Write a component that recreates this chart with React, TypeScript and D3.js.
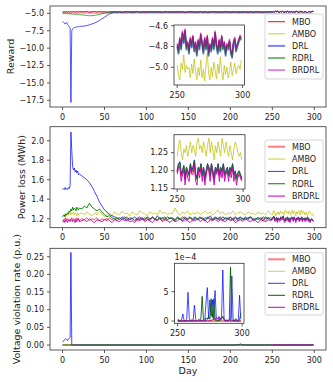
import React from 'react';
import * as d3 from 'd3';

// x categories: days 0-20 daily, then every 3rd day to 248 (main), and days 250-299 daily (inset)
const headDays = d3.range(0, 21);
const bodyDays = d3.range(23, 249, 3);
const mainDays = headDays.concat(bodyDays);
const insetDays = d3.range(250, 300);

const names = ['MBO', 'AMBO', 'DRL', 'RDRL', 'BRDRL'];
const xTicks = [0, 50, 100, 150, 200, 250, 300];
const insetXTicks = [250, 300];

// ---------- Reward ----------
const rewardMboMain = [
  -4.80, -4.82, -4.78, -4.84, -4.80, -4.76, -4.82, -4.79, -4.85, -4.80,
  -4.78, -4.83, -4.80, -4.76, -4.82, -4.84, -4.79, -4.81, -4.77, -4.83,
  -4.80,
  -4.78, -4.82, -4.76, -4.84, -4.80, -4.78, -4.83, -4.77, -4.81, -4.79,
  -4.84, -4.78, -4.80, -4.76, -4.82, -4.79, -4.85, -4.78, -4.81, -4.77,
  -4.83, -4.80, -4.76, -4.82, -4.78, -4.84, -4.79, -4.81, -4.75, -4.82,
  -4.80, -4.78, -4.84, -4.77, -4.81, -4.79, -4.83, -4.76, -4.80, -4.82,
  -4.78, -4.85, -4.79, -4.81, -4.77, -4.83, -4.80, -4.76, -4.82, -4.79,
  -4.84, -4.78, -4.80, -4.77, -4.82, -4.79, -4.83, -4.76, -4.81, -4.80,
  -4.78, -4.84, -4.79, -4.82, -4.77, -4.80, -4.83, -4.78, -4.81, -4.76,
  -4.82, -4.79, -4.84, -4.78, -4.80, -4.77,
];
const rewardAmboMain = [
  -4.98, -5.02, -4.96, -5.04, -5.00, -4.97, -5.03, -4.99, -5.05, -5.00,
  -4.96, -5.02, -5.00, -4.97, -5.04, -5.01, -4.98, -5.03, -4.99, -5.02,
  -5.00,
  -4.97, -5.03, -5.00, -5.06, -4.98, -5.02, -4.96, -5.04, -5.01, -4.99,
  -5.05, -4.98, -5.02, -4.97, -5.03, -5.00, -5.06, -4.99, -5.02, -4.96,
  -5.04, -5.00, -4.97, -5.03, -4.99, -5.05, -5.01, -4.98, -5.04, -4.96,
  -5.02, -5.00, -5.06, -4.98, -5.03, -4.99, -5.04, -4.97, -5.02, -5.00,
  -4.98, -5.05, -5.01, -4.97, -5.03, -5.00, -5.06, -4.99, -5.02, -4.98,
  -5.04, -5.00, -4.97, -5.03, -5.01, -5.05, -4.98, -5.02, -4.99, -5.04,
  -5.00, -4.97, -5.03, -5.01, -4.98, -5.02,
];
const rewardDrlMain = [
  -6.15, -6.25, -6.35, -6.55, -6.40, -6.30, -6.60, -6.70, -6.90, -7.10,
  -17.80, -7.50, -7.20, -7.10, -7.05, -7.00, -6.98, -6.95, -6.92, -6.90,
  -6.88,
  -6.85, -6.82, -6.75, -6.65, -6.52, -6.40, -6.22, -6.02, -5.78, -5.55,
  -5.30, -5.08, -4.92, -4.86,
  -4.84, -4.80, -4.86, -4.82, -4.79, -4.85, -4.81, -4.83, -4.78, -4.86,
  -4.82, -4.80, -4.84, -4.79, -4.85, -4.81, -4.83, -4.80, -4.86, -4.82,
  -4.78, -4.84, -4.81, -4.85, -4.80, -4.83, -4.79, -4.86, -4.82, -4.80,
  -4.84, -4.81, -4.85, -4.79, -4.83, -4.80, -4.86, -4.82, -4.78, -4.84,
  -4.81, -4.85, -4.80, -4.83, -4.79, -4.86, -4.82, -4.80, -4.84, -4.81,
  -4.85, -4.79, -4.83, -4.80, -4.86, -4.82, -4.78, -4.84, -4.81, -4.85,
  -4.80, -4.83,
];
const rewardRdrlMain = [
  -4.98, -5.00, -4.96, -5.02, -5.04, -5.00, -5.06, -5.03, -5.08, -5.05,
  -5.10, -5.07, -5.12, -5.09, -5.14, -5.11, -5.16, -5.13, -5.18, -5.15,
  -5.20,
  -5.22, -5.25, -5.30, -5.35, -5.32, -5.28, -5.22, -5.15, -5.05, -4.95,
  -4.88, -4.85, -4.84, -4.83,
  -4.83, -4.79, -4.85, -4.81, -4.78, -4.84, -4.80, -4.82, -4.77, -4.85,
  -4.81, -4.79, -4.83, -4.78, -4.84, -4.80, -4.82, -4.79, -4.85, -4.81,
  -4.77, -4.83, -4.80, -4.84, -4.79, -4.82, -4.78, -4.85, -4.81, -4.79,
  -4.83, -4.80, -4.84, -4.78, -4.82, -4.79, -4.85, -4.81, -4.77, -4.83,
  -4.80, -4.84, -4.79, -4.82, -4.78, -4.85, -4.81, -4.79, -4.83, -4.80,
  -4.84, -4.78, -4.82, -4.79, -4.85, -4.81, -4.77, -4.83, -4.80, -4.84,
  -4.79, -4.82,
];
const rewardBrdrlMain = [
  -4.76, -4.79, -4.74, -4.80, -4.77, -4.73, -4.79, -4.76, -4.81, -4.77,
  -4.75, -4.80, -4.77, -4.73, -4.79, -4.81, -4.76, -4.78, -4.74, -4.80,
  -4.77,
  -4.75, -4.79, -4.73, -4.81, -4.77, -4.75, -4.80, -4.74, -4.78, -4.76,
  -4.81, -4.75, -4.77, -4.73, -4.79, -4.76, -4.82, -4.75, -4.78, -4.74,
  -4.80, -4.77, -4.73, -4.79, -4.75, -4.81, -4.76, -4.78, -4.72, -4.79,
  -4.77, -4.75, -4.81, -4.74, -4.78, -4.76, -4.80, -4.73, -4.77, -4.79,
  -4.75, -4.82, -4.76, -4.78, -4.74, -4.80, -4.77, -4.73, -4.79, -4.76,
  -4.81, -4.75, -4.77, -4.74, -4.79, -4.76, -4.80, -4.73, -4.78, -4.77,
  -4.75, -4.81, -4.76, -4.79, -4.74, -4.77, -4.80, -4.75, -4.78, -4.73,
  -4.79, -4.76, -4.81, -4.75, -4.77, -4.74,
];

const rewardMboInset = [
  -4.78, -4.84, -4.72, -4.80, -4.66, -4.74, -4.64, -4.80, -4.76, -4.84,
  -4.72, -4.78, -4.70, -4.82, -4.76, -4.86, -4.74, -4.80, -4.68, -4.76,
  -4.84, -4.72, -4.80, -4.70, -4.86, -4.78, -4.82, -4.72, -4.80, -4.66,
  -4.78, -4.84, -4.74, -4.82, -4.70, -4.80, -4.76, -4.86, -4.78, -4.80,
  -4.74, -4.84, -4.88, -4.76, -4.72, -4.82, -4.78, -4.74, -4.70, -4.72,
];
const rewardAmboInset = [
  -4.98, -5.08, -5.12, -4.96, -5.02, -4.88, -5.05, -4.98, -5.02, -5.00,
  -5.10, -4.97, -5.06, -4.92, -5.04, -5.12, -5.00, -5.08, -4.93, -5.10,
  -5.02, -5.13, -4.98, -4.86, -5.06, -5.12, -5.00, -5.09, -4.95, -5.03,
  -5.11, -4.97, -5.06, -4.90, -5.04, -5.12, -4.98, -5.07, -5.00, -5.10,
  -5.04, -4.95, -5.08, -5.02, -4.96, -5.06, -5.00, -4.98, -5.02, -4.93,
];
const rewardDrlInset = [
  -4.80, -4.87, -4.74, -4.83, -4.68, -4.77, -4.66, -4.83, -4.78, -4.87,
  -4.74, -4.81, -4.72, -4.85, -4.78, -4.89, -4.76, -4.83, -4.70, -4.78,
  -4.87, -4.74, -4.83, -4.72, -4.89, -4.80, -4.85, -4.74, -4.83, -4.68,
  -4.80, -4.87, -4.76, -4.85, -4.72, -4.83, -4.78, -4.89, -4.80, -4.83,
  -4.76, -4.87, -4.91, -4.78, -4.74, -4.85, -4.80, -4.76, -4.72, -4.74,
];
const rewardRdrlInset = [
  -4.79, -4.86, -4.73, -4.82, -4.67, -4.76, -4.65, -4.82, -4.77, -4.86,
  -4.73, -4.80, -4.71, -4.84, -4.77, -4.88, -4.75, -4.82, -4.69, -4.77,
  -4.86, -4.73, -4.82, -4.71, -4.88, -4.79, -4.84, -4.73, -4.82, -4.67,
  -4.79, -4.86, -4.75, -4.84, -4.71, -4.82, -4.77, -4.88, -4.79, -4.82,
  -4.75, -4.86, -4.90, -4.77, -4.73, -4.84, -4.79, -4.75, -4.71, -4.73,
];
const rewardBrdrlInset = [
  -4.77, -4.83, -4.71, -4.79, -4.65, -4.73, -4.63, -4.79, -4.75, -4.83,
  -4.71, -4.77, -4.69, -4.81, -4.75, -4.85, -4.73, -4.79, -4.67, -4.75,
  -4.83, -4.71, -4.79, -4.69, -4.85, -4.77, -4.81, -4.71, -4.79, -4.65,
  -4.77, -4.83, -4.73, -4.81, -4.69, -4.79, -4.75, -4.85, -4.77, -4.79,
  -4.73, -4.83, -4.87, -4.75, -4.71, -4.81, -4.77, -4.73, -4.69, -4.71,
];

// ---------- Power loss ----------
const lossMboMain = [
  1.19, 1.18, 1.20, 1.19, 1.21, 1.18, 1.20, 1.19, 1.18, 1.20,
  1.19, 1.21, 1.18, 1.20, 1.19, 1.20, 1.18, 1.21, 1.19, 1.20,
  1.18,
  1.20, 1.19, 1.21, 1.18, 1.20, 1.19, 1.21, 1.18, 1.20, 1.19,
  1.18, 1.21, 1.19, 1.20, 1.18, 1.21, 1.19, 1.20, 1.22, 1.19,
  1.20, 1.18, 1.21, 1.19, 1.20, 1.18, 1.21, 1.19, 1.22, 1.20,
  1.19, 1.21, 1.18, 1.20, 1.19, 1.21, 1.20, 1.18, 1.21, 1.19,
  1.20, 1.22, 1.19, 1.21, 1.18, 1.20, 1.19, 1.21, 1.20, 1.18,
  1.21, 1.19, 1.20, 1.22, 1.19, 1.21, 1.18, 1.20, 1.19, 1.21,
  1.20, 1.18, 1.21, 1.19, 1.20, 1.22, 1.19, 1.21, 1.18, 1.20,
  1.19, 1.21, 1.20, 1.18, 1.21, 1.19,
];
const lossAmboMain = [
  1.23, 1.24, 1.22, 1.25, 1.24, 1.23, 1.26, 1.24, 1.25, 1.27,
  1.24, 1.26, 1.25, 1.27, 1.24, 1.26, 1.25, 1.23, 1.26, 1.24,
  1.25,
  1.26, 1.24, 1.27, 1.25, 1.23, 1.26, 1.24, 1.27, 1.25, 1.22,
  1.24, 1.26, 1.23, 1.27, 1.25, 1.24, 1.28, 1.25, 1.26, 1.23,
  1.27, 1.25, 1.24, 1.28, 1.26, 1.25, 1.23, 1.27, 1.25, 1.26,
  1.24, 1.29, 1.25, 1.27, 1.24, 1.26, 1.25, 1.31, 1.26, 1.24,
  1.27, 1.25, 1.28, 1.24, 1.26, 1.25, 1.27, 1.24, 1.26, 1.28,
  1.25, 1.27, 1.24, 1.26, 1.29, 1.25, 1.27, 1.24, 1.26, 1.25,
  1.28, 1.24, 1.26, 1.27, 1.25, 1.24, 1.27, 1.25, 1.26, 1.24,
  1.27, 1.25, 1.26, 1.24, 1.28, 1.25,
];
const lossDrlMain = [
  1.50, 1.51, 1.50, 1.52, 1.50, 1.51, 1.50, 1.52, 1.51, 1.54,
  2.09, 1.90, 1.74, 1.70, 1.72, 1.68, 1.70, 1.67, 1.69, 1.65,
  1.66,
  1.64, 1.62, 1.60, 1.57, 1.53, 1.48, 1.43, 1.37, 1.33, 1.29,
  1.27, 1.24, 1.23, 1.22,
  1.21, 1.19, 1.22, 1.20, 1.18, 1.21, 1.20, 1.22, 1.19, 1.20,
  1.21, 1.19, 1.22, 1.20, 1.21, 1.19, 1.23, 1.20, 1.21, 1.19,
  1.22, 1.20, 1.21, 1.19, 1.22, 1.20, 1.18, 1.21, 1.20, 1.22,
  1.19, 1.21, 1.20, 1.22, 1.19, 1.21, 1.20, 1.23, 1.19, 1.21,
  1.20, 1.22, 1.19, 1.21, 1.20, 1.22, 1.19, 1.21, 1.20, 1.22,
  1.19, 1.21, 1.20, 1.22, 1.19, 1.20, 1.21, 1.19, 1.22, 1.20,
  1.21, 1.19,
];
const lossRdrlMain = [
  1.22, 1.23, 1.24, 1.22, 1.25, 1.24, 1.26, 1.25, 1.28, 1.27,
  1.30, 1.28, 1.32, 1.29, 1.31, 1.30, 1.28, 1.32, 1.30, 1.29,
  1.31,
  1.30, 1.33, 1.31, 1.36, 1.32, 1.30, 1.28, 1.30, 1.27, 1.24,
  1.22, 1.23, 1.21, 1.20,
  1.20, 1.21, 1.19, 1.22, 1.20, 1.19, 1.21, 1.18, 1.20, 1.22,
  1.19, 1.21, 1.20, 1.18, 1.22, 1.20, 1.19, 1.21, 1.20, 1.22,
  1.19, 1.21, 1.20, 1.18, 1.21, 1.19, 1.22, 1.20, 1.19, 1.21,
  1.20, 1.22, 1.19, 1.20, 1.21, 1.18, 1.22, 1.20, 1.19, 1.21,
  1.20, 1.19, 1.22, 1.20, 1.21, 1.19, 1.20, 1.22, 1.18, 1.21,
  1.20, 1.19, 1.21, 1.22, 1.20, 1.19, 1.21, 1.20, 1.18, 1.22,
  1.20, 1.21,
];
const lossBrdrlMain = [
  1.17, 1.18, 1.16, 1.19, 1.17, 1.18, 1.16, 1.19, 1.18, 1.17,
  1.19, 1.18, 1.17, 1.19, 1.18, 1.16, 1.19, 1.17, 1.18, 1.20,
  1.17,
  1.18, 1.19, 1.17, 1.20, 1.18, 1.16, 1.19, 1.18, 1.17, 1.19,
  1.20, 1.18, 1.16, 1.19, 1.18, 1.17, 1.20, 1.18, 1.19, 1.17,
  1.18, 1.16, 1.19, 1.18, 1.20, 1.17, 1.19, 1.18, 1.16, 1.19,
  1.18, 1.20, 1.17, 1.19, 1.18, 1.16, 1.19, 1.17, 1.18, 1.20,
  1.17, 1.19, 1.18, 1.16, 1.19, 1.18, 1.20, 1.17, 1.19, 1.18,
  1.16, 1.19, 1.18, 1.20, 1.17, 1.19, 1.18, 1.17, 1.20, 1.18,
  1.19, 1.16, 1.18, 1.19, 1.17, 1.20, 1.18, 1.17, 1.19, 1.18,
  1.16, 1.19, 1.18, 1.17, 1.19, 1.18,
];

const lossMboInset = [
  1.195, 1.215, 1.22, 1.185, 1.195, 1.21, 1.175, 1.205, 1.195, 1.185,
  1.215, 1.195, 1.205, 1.225, 1.185, 1.175, 1.205, 1.195, 1.215, 1.185,
  1.205, 1.175, 1.195, 1.215, 1.205, 1.185, 1.215, 1.195, 1.175, 1.205,
  1.195, 1.215, 1.185, 1.205, 1.195, 1.215, 1.185, 1.195, 1.205, 1.185,
  1.205, 1.195, 1.215, 1.185, 1.195, 1.175, 1.19, 1.195, 1.185, 1.175,
];
const lossAmboInset = [
  1.24, 1.27, 1.285, 1.25, 1.23, 1.26, 1.25, 1.27, 1.24, 1.26,
  1.28, 1.25, 1.27, 1.26, 1.24, 1.28, 1.29, 1.26, 1.27, 1.25,
  1.28, 1.26, 1.24, 1.27, 1.29, 1.25, 1.28, 1.26, 1.23, 1.27,
  1.25, 1.28, 1.26, 1.24, 1.29, 1.27, 1.25, 1.28, 1.26, 1.24,
  1.27, 1.25, 1.23, 1.26, 1.28, 1.27, 1.25, 1.24, 1.25, 1.23,
];
const lossDrlInset = [
  1.20, 1.22, 1.225, 1.19, 1.20, 1.215, 1.18, 1.21, 1.20, 1.19,
  1.22, 1.20, 1.21, 1.23, 1.19, 1.18, 1.21, 1.20, 1.22, 1.19,
  1.21, 1.18, 1.20, 1.22, 1.21, 1.19, 1.22, 1.20, 1.18, 1.21,
  1.20, 1.22, 1.19, 1.21, 1.20, 1.22, 1.19, 1.20, 1.21, 1.19,
  1.21, 1.20, 1.22, 1.19, 1.20, 1.18, 1.195, 1.20, 1.19, 1.18,
];
const lossRdrlInset = [
  1.197, 1.217, 1.222, 1.187, 1.197, 1.212, 1.177, 1.207, 1.197, 1.187,
  1.217, 1.197, 1.207, 1.227, 1.187, 1.177, 1.207, 1.197, 1.217, 1.187,
  1.207, 1.177, 1.197, 1.217, 1.207, 1.187, 1.217, 1.197, 1.177, 1.207,
  1.197, 1.217, 1.187, 1.207, 1.197, 1.217, 1.187, 1.197, 1.207, 1.187,
  1.207, 1.197, 1.217, 1.187, 1.197, 1.177, 1.192, 1.197, 1.187, 1.177,
];
const lossBrdrlInset = [
  1.19, 1.21, 1.21, 1.17, 1.19, 1.20, 1.16, 1.20, 1.18, 1.17,
  1.21, 1.19, 1.19, 1.22, 1.17, 1.16, 1.20, 1.18, 1.21, 1.17,
  1.20, 1.16, 1.19, 1.21, 1.20, 1.17, 1.21, 1.19, 1.16, 1.20,
  1.19, 1.21, 1.17, 1.20, 1.18, 1.21, 1.17, 1.19, 1.20, 1.17,
  1.20, 1.18, 1.21, 1.17, 1.19, 1.16, 1.18, 1.19, 1.18, 1.17,
];

// ---------- Voltage violation rate ----------
const violFlatMain = [
  0, 0, 0, 0, 0, 0, 0, 0, 0, 0, 0, 0, 0, 0, 0, 0, 0, 0, 0, 0, 0,
  0, 0, 0, 0, 0, 0, 0, 0, 0, 0, 0, 0, 0, 0, 0, 0, 0, 0, 0, 0,
  0, 0, 0, 0, 0, 0, 0, 0, 0, 0, 0, 0, 0, 0, 0, 0, 0, 0, 0, 0,
  0, 0, 0, 0, 0, 0, 0, 0, 0, 0, 0, 0, 0, 0, 0, 0, 0, 0, 0, 0,
  0, 0, 0, 0, 0, 0, 0, 0, 0, 0, 0, 0, 0, 0, 0, 0,
];
const violDrlMain = [
  0.008, 0.011, 0.014, 0.016, 0.018, 0.015, 0.013, 0.017, 0.019, 0.021,
  0.262, 0, 0, 0, 0, 0, 0, 0, 0, 0, 0,
  0, 0, 0, 0, 0, 0, 0, 0, 0, 0, 0, 0, 0, 0, 0, 0, 0, 0, 0, 0,
  0, 0, 0, 0, 0, 0, 0, 0, 0, 0, 0, 0, 0, 0, 0, 0, 0, 0, 0, 0,
  0, 0, 0, 0, 0, 0, 0, 0, 0, 0, 0, 0, 0, 0, 0, 0, 0, 0, 0, 0,
  0, 0, 0, 0.003, 0, 0, 0, 0, 0, 0, 0, 0, 0, 0, 0, 0,
];
// inset values in units of 1e-4
const violFlatInset = [
  0, 0, 0, 0, 0, 0, 0, 0, 0, 0, 0, 0, 0, 0, 0, 0, 0, 0, 0, 0, 0, 0, 0, 0, 0,
  0, 0, 0, 0, 0, 0, 0, 0, 0, 0, 0, 0, 0, 0, 0, 0, 0, 0, 0, 0, 0, 0, 0, 0, 0,
];
const violDrlInset = [
  0.1, 0.0, 0.0, 0.2, 1.2, 0.1, 0.0, 0.3, 4.9, 0.5,
  0.0, 0.2, 0.1, 2.7, 0.3, 0.0, 0.2, 0.3, 0.1, 0.0,
  0.2, 0.0, 3.2, 5.7, 0.4, 3.6, 0.8, 3.6, 0.2, 5.2,
  0.3, 0.0, 0.6, 0.1, 0.4, 8.7, 0.5, 0.0, 0.2, 0.0,
  0.3, 0.1, 7.7, 0.4, 0.0, 0.1, 0.2, 0.0, 4.4, 0.3,
];
const violRdrlInset = [
  0, 0, 0, 0, 0, 0, 0, 0, 0, 0.1,
  0, 0, 0, 0.1, 0, 0, 0.2, 0, 0.3, 4.2,
  0.2, 0, 0.5, 0.3, 0.8, 0.3, 3.8, 0.6, 3.8, 0.2,
  0, 0.1, 0, 0.5, 0.3, 0.8, 0.2, 0, 0.1, 0,
  0.2, 9.2, 0.3, 0, 0, 0.4, 0.1, 0, 0.2, 1.3,
];
const violBrdrlInset = [
  0.3, 0.2, 0, 0, 0.1, 0, 0, 0, 0.1, 0,
  0, 0.1, 0, 0, 0, 0.1, 0, 0, 0, 0,
  0.1, 0, 0, 0.2, 0, 0.1, 0, 0.3, 0.5, 0.2,
  0.6, 0.4, 0.8, 0.3, 0.5, 0.7, 0.2, 0, 0.1, 0,
  0.1, 0, 0, 0.1, 0, 0, 0, 0, 0, 0,
];

type Pt = [number, number];
const zip = (days: number[], vals: number[], k = 1): Pt[] =>
  d3.range(Math.min(days.length, vals.length)).map((i) => [days[i], vals[i] * k] as Pt);

type Style = { color: string; width: number; opacity: number };
type Box = { l: number; r: number; t: number; b: number };
type Spec = {
  id: string;
  box: Box;
  yDomain: [number, number];
  yTicks: number[];
  yFmt: string;
  label: string;
  labelX: number;
  main: Pt[][];
  inset: Pt[][];
  styles: Style[];
  ibox: Box;
  iyDomain: [number, number];
  iyTicks: number[];
  iyFmt: string;
  offsetText?: string;
  legend: { x: number; y: number; w: number; h: number; row0: number; step: number };
  xlabel?: string;
};

const FONT = 'DejaVu Sans, Liberation Sans, sans-serif';
const AX = '#333';

const panels: Spec[] = [
  {
    id: 'rw',
    box: { l: 50, r: 326, t: 6, b: 107 },
    yDomain: [-18.46, -3.94],
    yTicks: [-17.5, -15, -12.5, -10, -7.5, -5],
    yFmt: '.1f',
    label: 'Reward',
    labelX: 11,
    main: [
      zip(mainDays, rewardMboMain).concat(zip(insetDays, rewardMboInset)),
      zip(mainDays, rewardAmboMain).concat(zip(insetDays, rewardAmboInset)),
      zip(mainDays, rewardDrlMain).concat(zip(insetDays, rewardDrlInset)),
      zip(mainDays, rewardRdrlMain).concat(zip(insetDays, rewardRdrlInset)),
      zip(mainDays, rewardBrdrlMain).concat(zip(insetDays, rewardBrdrlInset)),
    ],
    inset: [
      zip(insetDays, rewardMboInset),
      zip(insetDays, rewardAmboInset),
      zip(insetDays, rewardDrlInset),
      zip(insetDays, rewardRdrlInset),
      zip(insetDays, rewardBrdrlInset),
    ],
    styles: [
      { color: '#ff0000', width: 1, opacity: 1 },
      { color: '#bfbf00', width: 1, opacity: 0.8 },
      { color: '#0000ff', width: 2, opacity: 0.5 },
      { color: '#008000', width: 1.5, opacity: 0.7 },
      { color: '#bf00bf', width: 1.5, opacity: 0.6 },
    ],
    ibox: { l: 174, r: 244.5, t: 25, b: 85 },
    iyDomain: [-5.17, -4.593],
    iyTicks: [-5.0, -4.8, -4.6],
    iyFmt: '.1f',
    legend: { x: 265, y: 14, w: 58, h: 65, row0: 21.7, step: 12.1 },
  },
  {
    id: 'pl',
    box: { l: 50, r: 326, t: 126.7, b: 227.7 },
    yDomain: [1.108, 2.144],
    yTicks: [1.2, 1.4, 1.6, 1.8, 2.0],
    yFmt: '.1f',
    label: 'Power loss (MWh)',
    labelX: 22,
    main: [
      zip(mainDays, lossMboMain).concat(zip(insetDays, lossMboInset)),
      zip(mainDays, lossAmboMain).concat(zip(insetDays, lossAmboInset)),
      zip(mainDays, lossDrlMain).concat(zip(insetDays, lossDrlInset)),
      zip(mainDays, lossRdrlMain).concat(zip(insetDays, lossRdrlInset)),
      zip(mainDays, lossBrdrlMain).concat(zip(insetDays, lossBrdrlInset)),
    ],
    inset: [
      zip(insetDays, lossMboInset),
      zip(insetDays, lossAmboInset),
      zip(insetDays, lossDrlInset),
      zip(insetDays, lossRdrlInset),
      zip(insetDays, lossBrdrlInset),
    ],
    styles: [
      { color: '#ff0000', width: 2, opacity: 0.5 },
      { color: '#bfbf00', width: 1, opacity: 0.8 },
      { color: '#0000ff', width: 1, opacity: 0.8 },
      { color: '#008000', width: 1, opacity: 1 },
      { color: '#bf00bf', width: 1, opacity: 1 },
    ],
    ibox: { l: 174, r: 245, t: 134.7, b: 189 },
    iyDomain: [1.149, 1.3],
    iyTicks: [1.15, 1.2, 1.25],
    iyFmt: '.2f',
    legend: { x: 265, y: 140, w: 58, h: 62, row0: 146.7, step: 12.35 },
  },
  {
    id: 'vv',
    box: { l: 50, r: 326, t: 248.3, b: 350 },
    yDomain: [-0.0142, 0.2738],
    yTicks: [0, 0.05, 0.1, 0.15, 0.2, 0.25],
    yFmt: '.2f',
    label: 'Voltage violation rate (p.u.)',
    labelX: 17,
    main: [
      zip(mainDays, violFlatMain).concat(zip(insetDays, violFlatInset, 1e-4)),
      zip(mainDays, violFlatMain).concat(zip(insetDays, violFlatInset, 1e-4)),
      zip(mainDays, violDrlMain).concat(zip(insetDays, violDrlInset, 1e-4)),
      zip(mainDays, violFlatMain).concat(zip(insetDays, violRdrlInset, 1e-4)),
      zip(insetDays, violBrdrlInset, 1e-4),
    ],
    inset: [
      zip(insetDays, violFlatInset),
      zip(insetDays, violFlatInset),
      zip(insetDays, violDrlInset),
      zip(insetDays, violRdrlInset),
      zip(insetDays, violBrdrlInset),
    ],
    styles: [
      { color: '#ff0000', width: 2, opacity: 0.5 },
      { color: '#bfbf00', width: 1, opacity: 0.7 },
      { color: '#0000ff', width: 1, opacity: 0.8 },
      { color: '#006400', width: 1, opacity: 1 },
      { color: '#bf00bf', width: 1, opacity: 1 },
    ],
    ibox: { l: 174.5, r: 244, t: 263.3, b: 323.3 },
    iyDomain: [-0.39, 9.85],
    iyTicks: [0, 5],
    iyFmt: 'd',
    offsetText: '1e\u22124',
    legend: { x: 265, y: 252.7, w: 58, h: 62.3, row0: 259.3, step: 12 },
    xlabel: 'Day',
  },
];

function Panel({ p }: { p: Spec }) {
  const { box, ibox, legend } = p;
  const x = d3.scaleLinear().domain([-14.95, 313.95]).range([box.l, box.r]);
  const y = d3.scaleLinear().domain(p.yDomain).range([box.b, box.t]);
  const ix = d3.scaleLinear().domain([247.55, 301.45]).range([ibox.l, ibox.r]);
  const iy = d3.scaleLinear().domain(p.iyDomain).range([ibox.b, ibox.t]);
  const line = d3.line<Pt>().x((d) => x(d[0])).y((d) => y(d[1]));
  const iline = d3.line<Pt>().x((d) => ix(d[0])).y((d) => iy(d[1]));
  const yf = d3.format(p.yFmt);
  const iyf = d3.format(p.iyFmt);
  const tick = 3;
  return (
    <g>
      <defs>
        <clipPath id={`c-${p.id}`}>
          <rect x={box.l} y={box.t} width={box.r - box.l} height={box.b - box.t} />
        </clipPath>
        <clipPath id={`ci-${p.id}`}>
          <rect x={ibox.l} y={ibox.t} width={ibox.r - ibox.l} height={ibox.b - ibox.t} />
        </clipPath>
      </defs>
      <g clipPath={`url(#c-${p.id})`}>
        {p.main.map((s, i) => (
          <path key={i} d={line(s) ?? ''} fill="none" stroke={p.styles[i].color}
            strokeWidth={0.9} strokeOpacity={Math.max(p.styles[i].opacity, 0.75)} strokeLinejoin="round" />
        ))}
      </g>
      <rect x={box.l} y={box.t} width={box.r - box.l} height={box.b - box.t} fill="none" stroke={AX} strokeWidth={0.8} />
      {xTicks.map((t) => (
        <g key={t}>
          <line x1={x(t)} x2={x(t)} y1={box.b} y2={box.b + tick} stroke={AX} strokeWidth={0.8} />
          <text x={x(t)} y={box.b + 12.5} fontSize={8} textAnchor="middle" fill="#222">{t}</text>
        </g>
      ))}
      {p.yTicks.map((t) => (
        <g key={t}>
          <line x1={box.l - tick} x2={box.l} y1={y(t)} y2={y(t)} stroke={AX} strokeWidth={0.8} />
          <text x={box.l - 6} y={y(t)} dy="0.35em" fontSize={8} textAnchor="end" fill="#222">{yf(t)}</text>
        </g>
      ))}
      <text transform={`translate(${p.labelX},${(box.t + box.b) / 2}) rotate(-90)`} fontSize={9.5}
        textAnchor="middle" dy="0.35em" fill="#222">{p.label}</text>
      {p.xlabel && (
        <text x={(box.l + box.r) / 2} y={box.b + 24} fontSize={9.5} textAnchor="middle" fill="#222">{p.xlabel}</text>
      )}

      {/* inset */}
      <rect x={ibox.l} y={ibox.t} width={ibox.r - ibox.l} height={ibox.b - ibox.t} fill="#fff" />
      <g clipPath={`url(#ci-${p.id})`}>
        {p.inset.map((s, i) => (
          <path key={i} d={iline(s) ?? ''} fill="none" stroke={p.styles[i].color}
            strokeWidth={p.styles[i].width * 0.9} strokeOpacity={p.styles[i].opacity} strokeLinejoin="round" />
        ))}
      </g>
      <rect x={ibox.l} y={ibox.t} width={ibox.r - ibox.l} height={ibox.b - ibox.t} fill="none" stroke={AX} strokeWidth={0.8} />
      {insetXTicks.map((t) => (
        <g key={t}>
          <line x1={ix(t)} x2={ix(t)} y1={ibox.b} y2={ibox.b + tick} stroke={AX} strokeWidth={0.8} />
          <text x={ix(t)} y={ibox.b + 12.5} fontSize={8} textAnchor="middle" fill="#222">{t}</text>
        </g>
      ))}
      {p.iyTicks.map((t) => (
        <g key={t}>
          <line x1={ibox.l - tick} x2={ibox.l} y1={iy(t)} y2={iy(t)} stroke={AX} strokeWidth={0.8} />
          <text x={ibox.l - 6} y={iy(t)} dy="0.35em" fontSize={8} textAnchor="end" fill="#222">{iyf(t)}</text>
        </g>
      ))}
      {p.offsetText && (
        <text x={ibox.l} y={ibox.t - 3} fontSize={8} fill="#222">{p.offsetText}</text>
      )}

      {/* legend */}
      <rect x={legend.x} y={legend.y} width={legend.w} height={legend.h} rx={2}
        fill="#fff" fillOpacity={0.8} stroke="#ccc" strokeWidth={0.8} />
      {names.map((n, i) => {
        const ly = legend.row0 + i * legend.step;
        return (
          <g key={n}>
            <line x1={legend.x + 3} x2={legend.x + 20} y1={ly} y2={ly} stroke={p.styles[i].color}
              strokeWidth={p.styles[i].width} strokeOpacity={p.styles[i].opacity} />
            <text x={legend.x + 27} y={ly} dy="0.35em" fontSize={8} fill="#222">{n}</text>
          </g>
        );
      })}
    </g>
  );
}

export default function App() {
  return (
    <svg width={333} height={382} viewBox="0 0 333 382"
      style={{ position: 'absolute', left: 0, top: 0, background: '#fff' }} fontFamily={FONT}>
      <rect width={333} height={382} fill="#fff" />
      {panels.map((p) => (
        <Panel key={p.id} p={p} />
      ))}
    </svg>
  );
}
